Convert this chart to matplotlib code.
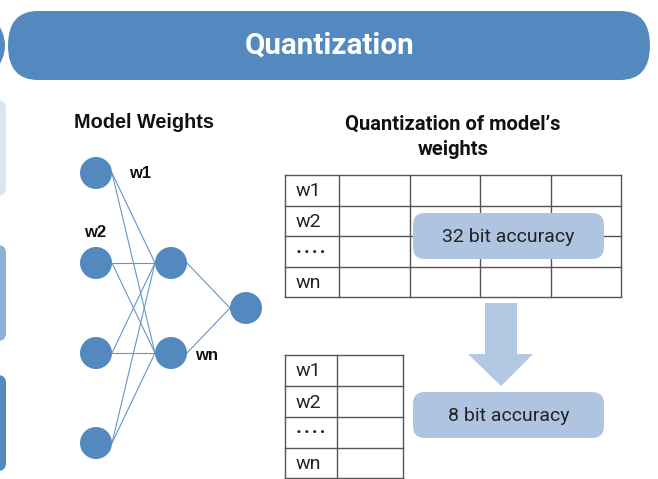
import matplotlib
matplotlib.use("Agg")
import matplotlib.pyplot as plt
from matplotlib.patches import FancyBboxPatch, Circle, Rectangle

plt.rcParams['font.family'] = ['Roboto', 'DejaVu Sans']

# labels / content
title = "Quantization"
left_heading = "Model Weights"
right_heading = "Quantization of model\u2019s\nweights"
layer_sizes = [4, 2, 1]
node_labels = ["w1", "w2", "wn"]
row_labels = ["w1", "w2", "\u00b7\u200a\u00b7\u200a\u00b7\u200a\u00b7", "wn"]
n_cols_full = 4
n_cols_small = 1
box_texts = ["32 bit accuracy", "8 bit accuracy"]

# colours
BLUE = "#5489C0"
PALE = "#AFC4E0"
ARROW = "#B3C8E2"
GRID = "#555555"
ARIAL = ['Liberation Sans', 'DejaVu Sans']

fig = plt.figure(figsize=(6.58, 4.79), dpi=100)
ax = fig.add_axes([0, 0, 1, 1])
ax.set_xlim(0, 658)
ax.set_ylim(479, 0)
ax.axis('off')

# banner
ax.add_patch(Circle((-30, 45.5), 35, fc=BLUE, ec="none"))
ax.add_patch(FancyBboxPatch((8, 11), 642, 69,
                            boxstyle="round,pad=0,rounding_size=30",
                            mutation_aspect=1.15, fc=BLUE, ec="none"))
ax.text(329.5, 46, title, color="white", fontsize=21.3, fontweight="bold",
        ha="center", va="center")

# partial boxes on the left edge
for (y0, y1, c) in [(100, 196, "#DCE6F2"), (245, 341, "#8FB1D8"), (375, 471, BLUE)]:
    ax.add_patch(FancyBboxPatch((-40, y0), 46, y1 - y0,
                                boxstyle="round,pad=0,rounding_size=8",
                                fc=c, ec="none"))

# neural net
ax.text(144, 122, left_heading, fontsize=14.3, fontweight="bold", family=ARIAL,
        ha="center", va="center", color="#111111")
layer_x = [96, 171, 246]
layer_y = [[173, 263, 353, 443], [263, 353], [308]]
r = 16
for li in range(len(layer_sizes) - 1):
    for ys in layer_y[li]:
        for yt in layer_y[li + 1]:
            ax.plot([layer_x[li] + r, layer_x[li + 1] - r], [ys, yt],
                    color="#6796C8", lw=0.8, zorder=1)
for li, n in enumerate(layer_sizes):
    for ys in layer_y[li][:n]:
        ax.add_patch(Circle((layer_x[li], ys), r, fc=BLUE, ec="none", zorder=2))
for (x, y), lab in zip([(140, 173), (95, 232), (207, 356)], node_labels):
    ax.text(x, y, lab, fontsize=12, fontweight="bold", family=ARIAL,
            ha="center", va="center", color="#111111")

# right heading
ax.text(453, 137, right_heading, fontsize=14.5, fontweight="bold",
        ha="center", va="center", linespacing=1.45, color="#111111")


def draw_table(x0, xs, ys, labels):
    for x in xs:
        ax.plot([x, x], [ys[0], ys[-1]], color=GRID, lw=1, zorder=1)
    for y in ys:
        ax.plot([xs[0], xs[-1]], [y, y], color=GRID, lw=1, zorder=1)
    for i, lab in enumerate(labels):
        yc = (ys[i] + ys[i + 1]) / 2
        ax.text(x0 + 11, yc + 1, lab, fontsize=14, ha="left", va="center",
                fontweight="bold" if lab.startswith("\u00b7") else "normal",
                color="#222222")


top_xs = [285, 339] + [339 + 70.5 * (k + 1) for k in range(n_cols_full)]
top_ys = [175, 206, 236, 267, 297]
draw_table(285, top_xs, top_ys, row_labels)

bot_xs = [285, 337] + [337 + 66 * (k + 1) for k in range(n_cols_small)]
bot_ys = [355, 386, 417, 448, 478]
draw_table(285, bot_xs, bot_ys, row_labels)

# accuracy boxes
for (y0, txt) in [(213, box_texts[0]), (392, box_texts[1])]:
    ax.add_patch(FancyBboxPatch((413, y0), 191, 46,
                                boxstyle="round,pad=0,rounding_size=12",
                                fc=PALE, ec="none", zorder=3))
    ax.text(508.5, y0 + 24, txt, fontsize=14, ha="center", va="center",
            color="#222222", zorder=4)

# arrow
ax.add_patch(Rectangle((485, 303), 32, 52, fc=ARROW, ec="none"))
ax.add_patch(plt.Polygon([[468, 354], [533, 354], [501, 386]], fc=ARROW, ec="none"))

fig.savefig("out.png", dpi=100)
